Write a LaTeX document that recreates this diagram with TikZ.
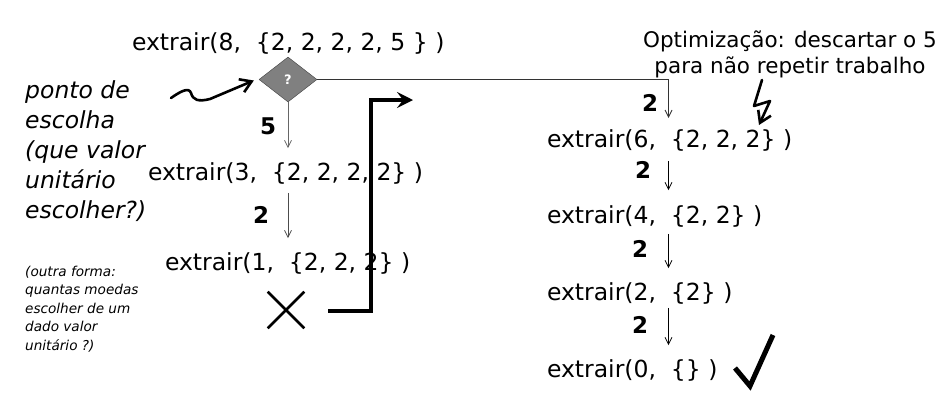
\documentclass[tikz,border=0pt]{standalone}
\usepackage{fontspec}
\setmainfont{DejaVu Sans}
\usetikzlibrary{arrows.meta,shapes.geometric,shapes.misc,calc}
\begin{document}
\begin{tikzpicture}[x=1pt,y=-1pt,
  call/.style={anchor=base west, inner sep=0pt, outer sep=0pt, font=\fontsize{23.5}{28}\selectfont},
  lbl/.style={anchor=base, inner sep=0pt, font=\fontsize{23}{28}\selectfont\bfseries},
  thinarrow/.style={-{Straight Barb[length=7pt,width=7pt]}, line width=0.8pt},
  grayarrow/.style={thinarrow, draw=black!60},
  choice/.style={diamond, draw=black!75, fill=black!50, minimum width=58pt, minimum height=45pt, inner sep=0pt, text=white, font=\fontsize{13}{15}\selectfont\bfseries},
  bigtext/.style={anchor=north west, align=left, inner sep=0pt, font=\fontsize{23.5}{30}\selectfont\itshape},
  smalltext/.style={anchor=north west, align=left, inner sep=0pt, font=\fontsize{13.6}{18.5}\selectfont\itshape},
  note/.style={anchor=north, align=center, inner sep=0pt, font=\fontsize{21.5}{26}\selectfont},
  heavy/.style={line width=4pt, line join=miter},
  pointer/.style={line width=2.6pt, line cap=round, line join=round, -{Straight Barb[length=11pt,width=14pt,line width=2.6pt]}},
]
\useasboundingbox (0,0) rectangle (945,408);

% left column
\node[call] (c8) at (132,50) {extrair(8,\ \ \{2, 2, 2, 2, 5 \} )};
\node[choice] (q) at (288,79.5) {?};
\node[call] (c3) at (148,180) {extrair(3,\ \ \{2, 2, 2, 2\} )};
\node[call] (c1) at (165,270) {extrair(1,\ \ \{2, 2, 2\} )};
\node[cross out, draw, line width=2.6pt, minimum width=34pt, minimum height=34pt, inner sep=0pt] (xx) at (286,310) {};

\draw[grayarrow] (q.south) -- ([yshift=14pt]q.south |- c3.north);
\draw[thinarrow, draw=black!70] ([yshift=-9pt]c3.south -| q.south) -- ([yshift=14pt]c1.north -| q.south);
\node[lbl] (l5) at (268,134) {5};
\node[lbl] (l2a) at (261,223) {2};

% right column
\node[call] (c6) at (547,147) {extrair(6,\ \ \{2, 2, 2\} )};
\node[call] (c4) at (547,223) {extrair(4,\ \ \{2, 2\} )};
\node[call] (c2) at (547,300) {extrair(2,\ \ \{2\} )};
\node[call] (c0) at (547,377) {extrair(0,\ \ \{\} )};
\coordinate (t6) at (668.5,118);
\draw[thinarrow, line width=0.9pt, draw=black!80] (q.east) -| (t6);
\draw[thinarrow] ([yshift=-10pt]c6.south -| t6) -- ([yshift=15pt]c4.north -| t6);
\draw[thinarrow] ([yshift=-7pt]c4.south -| t6) -- ([yshift=14pt]c2.north -| t6);
\draw[thinarrow] ([yshift=-4pt]c2.south -| t6) -- ([yshift=14pt]c0.north -| t6);
\node[lbl] (l2b) at (650,111) {2};
\node[lbl] (l2c) at (643,178) {2};
\node[lbl] (l2d) at (640,257) {2};
\node[lbl] (l2e) at (640,333) {2};

% jump from dead end to the other branch
\coordinate (js) at (328,311);
\coordinate (je) at (413,100);
\draw[heavy, -{Stealth[length=16pt,width=16pt,inset=6pt]}] (js) -| ([xshift=-42pt]je) -- (je);

% check mark
\coordinate (k0) at (735,368);
\coordinate (k1) at (750,386);
\coordinate (k2) at (773,335);
\draw[line width=5pt] (k0) -- (k1) -- (k2);

% notes
\node[bigtext] (pc) at (25,80.1) {ponto de\\escolha\\(que valor\\unitário\\escolher?)};
\node[smalltext] (of) at (25,265.7) {(outra forma:\\quantas moedas\\escolher de um\\dado valor\\unitário ?)};
\node[note] (opt) at (790,30.7) {Optimização: descartar o 5\\para não repetir trabalho};

% squiggly pointer to choice point
\coordinate (w0) at (171,98);
\draw[pointer] (w0) .. controls (181,91) and (189,87) .. (191,93) .. controls (193,100) and (198,102) .. (210,99) -- ([xshift=-5pt,yshift=-1pt]q.west);

% lightning pointer to the last 2 of extrair(6
\coordinate (z0) at (762,80);
\draw[pointer] (z0) -- (754,106) -- (770,101) -- (759,125);
\end{tikzpicture}
\end{document}
